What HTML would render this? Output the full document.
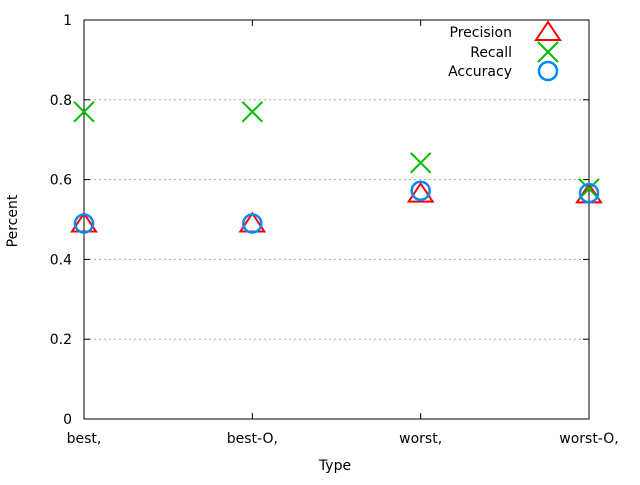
<!DOCTYPE html>
<html><head><meta charset="utf-8"><style>
body{margin:0;background:#fff}
svg text{font-family:"DejaVu Sans","Liberation Sans",sans-serif;font-size:14px;fill:#000}
</style></head><body>
<svg width="640" height="480">
<g id="grid"></g>
<rect x="84" y="20" width="505" height="399" fill="none" stroke="#000" stroke-width="1"/>
<g id="axes"></g>
<text x="17" y="221" transform="rotate(-90 17 221)" text-anchor="middle">Percent</text>
<text x="335" y="470" text-anchor="middle">Type</text>
<g id="legend"></g>
<g id="marks"></g>
</svg>
<script>
const categories=["best,","best-O,","worst,","worst-O,"];
const precision=[0.49,0.49,0.565,0.563];
const recall=[0.77,0.77,0.642,0.577];
const accuracy=[0.49,0.49,0.572,0.566];
const yTicks=[0,0.2,0.4,0.6,0.8,1];
const yTickLabels=["0","0.2","0.4","0.6","0.8","1"];
const NS="http://www.w3.org/2000/svg";
const X0=84,X1=589,Y0=419,Y1=20;
const xs=i=>X0+i*(X1-X0)/(categories.length-1);
const ys=v=>Y0-v*(Y0-Y1);
function mk(t,a,p){const e=document.createElementNS(NS,t);for(const k in a)e.setAttribute(k,a[k]);p.appendChild(e);return e;}
const grid=document.getElementById('grid'),axes=document.getElementById('axes'),marks=document.getElementById('marks'),legend=document.getElementById('legend');
yTicks.forEach((v,i)=>{const y=ys(v);
 if(v>0&&v<1){const g=mk('line',{x1:X0,x2:X1,y1:y,y2:y,stroke:'#aaa','stroke-dasharray':'2,3'},grid);
 
 }
 const t1=mk('line',{x1:X0,x2:X0+6,y1:y,y2:y,stroke:'#000'},axes);
 
 
 mk('line',{x1:X1-6,x2:X1,y1:y,y2:y,stroke:'#000'},axes);
 const tx=mk('text',{x:X0-12,y:y+5,'text-anchor':'end'},axes);tx.textContent=yTickLabels[i];
 
 });
categories.forEach((c,i)=>{const x=xs(i);
 const t=mk('line',{x1:x,x2:x,y1:Y0,y2:Y0-6,stroke:'#000'},axes);
 
 
 mk('line',{x1:x,x2:x,y1:Y1,y2:Y1+6,stroke:'#000'},axes);
 const tx=mk('text',{x:x,y:443,'text-anchor':'middle'},axes);tx.textContent=c;
 
 });
function tri(x,y,p){const e=mk('polygon',{points:`${x},${y-10} ${x-12},${y+8} ${x+12},${y+8}`,fill:'none',stroke:'#f00','stroke-width':2},p);return e;}
function cross(x,y,p){const g=mk('path',{d:`M${x-10},${y-10}L${x+10},${y+10}M${x-10},${y+10}L${x+10},${y-10}`,stroke:'#0b0','stroke-width':2,fill:'none'},p);return g;}
function circ(x,y,p){return mk('circle',{cx:x,cy:y,r:9,fill:'none',stroke:'#08f','stroke-width':2.5},p);}
categories.forEach((c,i)=>{const x=xs(i);
 const a=tri(x,ys(precision[i]),marks);
 
 
 const b=cross(x,ys(recall[i]),marks);
 
 
 const d=circ(x,ys(accuracy[i]),marks);
 
 });
[["Precision",tri,32],["Recall",cross,52],["Accuracy",circ,71]].forEach(([n,f,y])=>{
 const t=mk('text',{x:512,y:y+5,'text-anchor':'end'},legend);t.textContent=n;
 
 
 f(548,y,legend);});
</script>
</body></html>
